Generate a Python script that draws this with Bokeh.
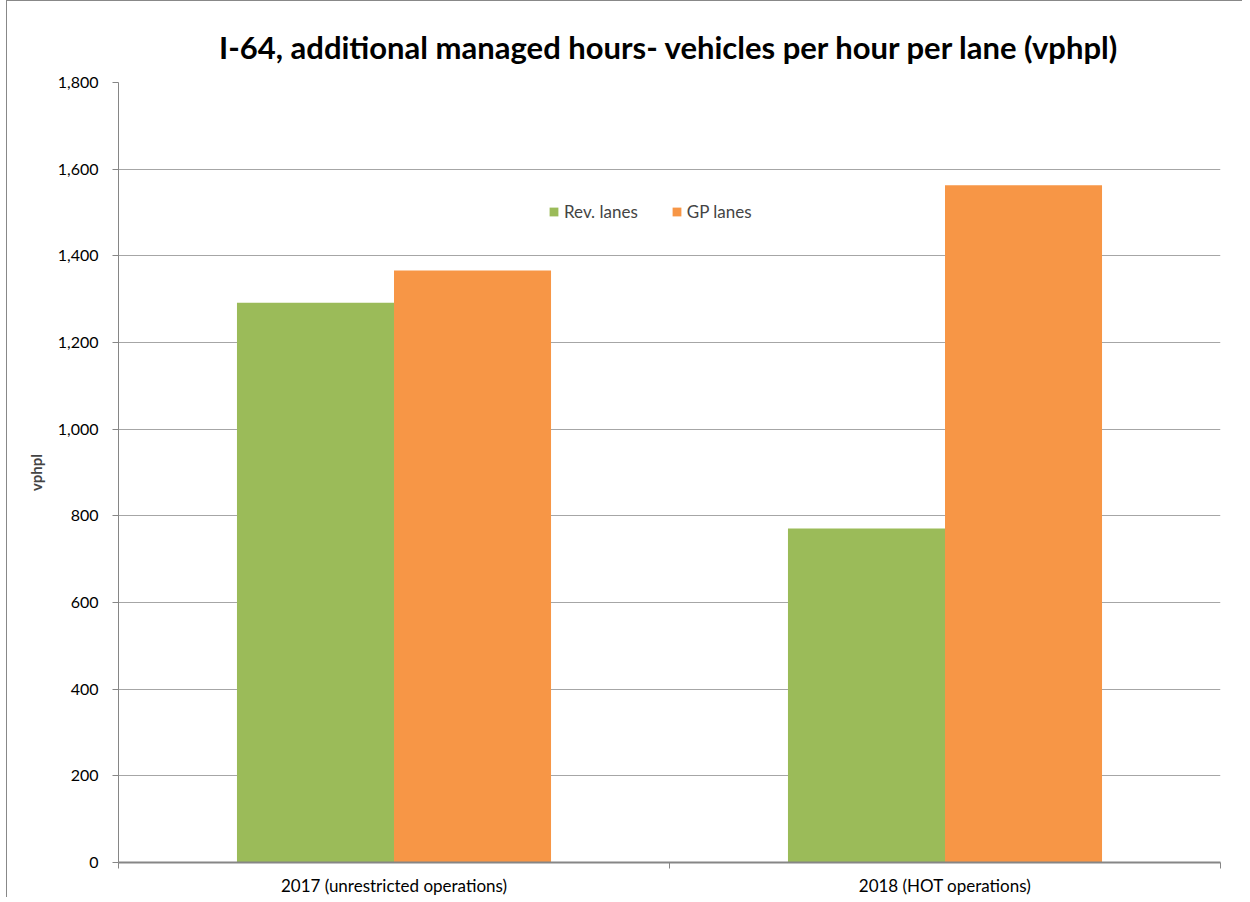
from bokeh.plotting import figure
from bokeh.models import ColumnDataSource, FixedTicker, NumeralTickFormatter, Range1d, Legend, LegendItem
from bokeh.embed import file_html
from bokeh.resources import INLINE

categories = ["2017 (unrestricted operations)", "2018 (HOT operations)"]
rev_lanes = [1292, 771]
gp_lanes = [1366, 1563]
series_names = ["Rev. lanes", "GP lanes"]
y_ticks = [0, 200, 400, 600, 800, 1000, 1200, 1400, 1600, 1800]

GREEN = "#9BBB59"
ORANGE = "#F79646"
FONT = "Lato"

bar_w = 0.285
centers = [i + 0.5 for i in range(len(categories))]

p = figure(width=1236, height=897, output_backend="svg", toolbar_location=None,
           x_range=Range1d(0, len(categories)), y_range=Range1d(0, 1800),
           min_border_left=111, min_border_right=23, min_border_top=81, min_border_bottom=31)

p.title.text = "I-64, additional managed hours- vehicles per hour per lane (vphpl)"
p.title.text_font = FONT
p.title.text_font_size = "31px"
p.title.text_font_style = "bold"
p.title.align = "center"
p.title.text_color = "#000000"
p.title.offset = 0
p.title.standoff = 34

src_rev = ColumnDataSource(dict(x=[c - bar_w / 2 for c in centers], top=rev_lanes))
src_gp = ColumnDataSource(dict(x=[c + bar_w / 2 for c in centers], top=gp_lanes))
r1 = p.vbar(x="x", top="top", width=bar_w, bottom=0, source=src_rev, fill_color=GREEN, line_color=None)
r2 = p.vbar(x="x", top="top", width=bar_w, bottom=0, source=src_gp, fill_color=ORANGE, line_color=None)

p.outline_line_color = None
p.background_fill_color = "white"

# y axis
p.yaxis.ticker = FixedTicker(ticks=y_ticks)
p.yaxis.formatter = NumeralTickFormatter(format="0,0")
p.yaxis.axis_label = "vphpl"
p.yaxis.axis_label_text_font = FONT
p.yaxis.axis_label_text_font_style = "bold"
p.yaxis.axis_label_text_font_size = "15px"
p.yaxis.axis_label_standoff = 10
p.yaxis.major_label_text_font = FONT
p.yaxis.major_label_text_font_size = "16px"
p.yaxis.major_label_text_color = "#000000"
p.yaxis.axis_line_color = "#868686"
p.yaxis.major_tick_line_color = "#868686"
p.yaxis.major_tick_out = 6
p.yaxis.major_tick_in = 0
p.yaxis.minor_tick_line_color = None
p.yaxis.major_label_standoff = 14

# x axis
p.xaxis.ticker = FixedTicker(ticks=centers, minor_ticks=list(range(len(categories) + 1)))
p.xaxis.major_label_overrides = {c: lab for c, lab in zip(centers, categories)}
p.xaxis.major_label_text_font = FONT
p.xaxis.major_label_text_font_size = "17px"
p.xaxis.major_label_text_color = "#000000"
p.xaxis.axis_line_color = "#868686"
p.xaxis.axis_line_width = 2
p.xaxis.major_tick_out = 0
p.xaxis.major_tick_in = 0
p.xaxis.minor_tick_out = 6
p.xaxis.minor_tick_in = 0
p.xaxis.minor_tick_line_color = "#868686"
p.xaxis.major_label_standoff = 6

p.xgrid.grid_line_color = None
p.ygrid.grid_line_color = "#A6A6A6"
p.ygrid.grid_line_width = 1

legend = Legend(items=[LegendItem(label=series_names[0], renderers=[r1]),
                       LegendItem(label=series_names[1], renderers=[r2])],
                orientation="horizontal", location=(430, 640),
                border_line_color=None, background_fill_alpha=0,
                label_text_font=FONT, label_text_font_size="17px",
                glyph_width=11, glyph_height=11, spacing=33, label_standoff=5, padding=4)
p.add_layout(legend, "center")

p.styles = {"border-left": "1px solid #888888", "border-top": "1px solid #888888", "margin-left": "6px"}

open("out.html", "w").write(file_html(p, INLINE))
